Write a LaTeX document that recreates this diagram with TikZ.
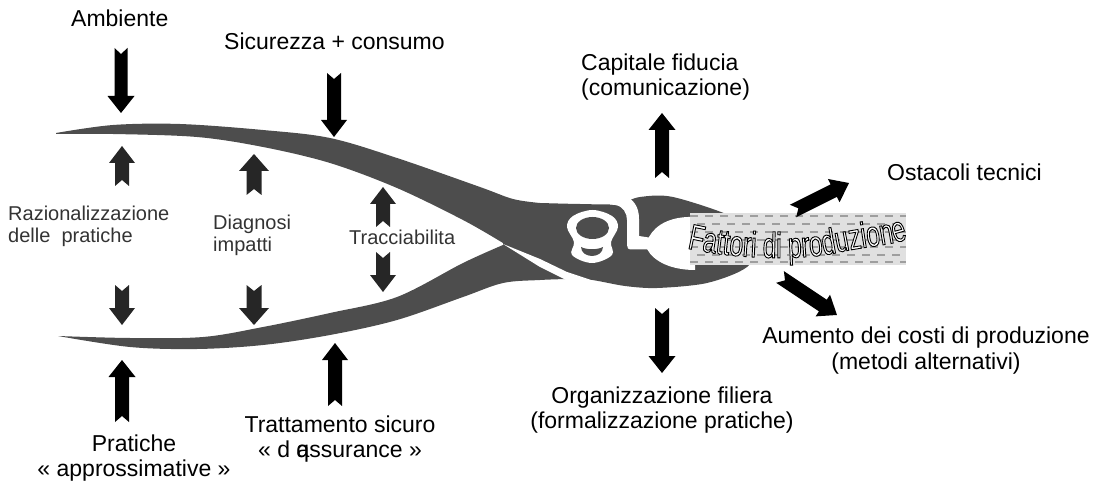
\documentclass[tikz,border=0pt]{standalone}
\usepackage{fontspec}
\setmainfont{Liberation Sans}
\newfontfamily\wavefont[FakeStretch=0.68]{Liberation Sans}
\usetikzlibrary{decorations.text,calc}
\definecolor{plier}{HTML}{4D4D4D}
\definecolor{darkarrow}{HTML}{262626}
\definecolor{labelgray}{HTML}{333333}
\newcommand{\notcharrow}[7]{% colour, x, y tail, x, y tip, shaft width, head width
  \path (#2,#3) coordinate (tl) (#4,#5) coordinate (tp);
  \path let \p1=($(tp)-(tl)$), \n1={veclen(\x1,\y1)}, \n2={atan2(\y1,\x1)} in
    \pgfextra{\xdef\arlen{\n1}\xdef\arang{\n2}};
  \fill[#1,shift={(#2,#3)},x=1pt,y=1pt,rotate=\arang]
    (0,-#6/2) -- (\arlen-17,-#6/2) -- (\arlen-17,-#7/2) -- (\arlen,0)
    -- (\arlen-17,#7/2) -- (\arlen-17,#6/2) -- (0,#6/2) -- (6,0) -- cycle;
}
\tikzset{
  big/.style={font=\fontsize{23}{25}\selectfont,text=black,inner sep=0pt,align=center},
  small/.style={font=\fontsize{20}{22}\selectfont,text=labelgray,inner sep=0pt,align=left}
}
\begin{document}
\begin{tikzpicture}[x=1pt,y=-1pt]
\useasboundingbox (0,0) rectangle (1098,481);
% pliers body
\fill[plier]
  plot[smooth,tension=0.55] coordinates {(56,133) (113,125) (180,124) (263,130) (330,138) (397,158) (480,187) (513,199) (540,203)}
  -- plot[smooth,tension=0.5] coordinates {(540,203) (580,204) (617,204) (640,197) (673,197) (733,217) (760,240) (747,267) (707,283) (657,288) (625,286) (592,280) (567,279)}
  -- plot[smooth,tension=0.55] coordinates {(567,279) (540,280) (503,283) (463,297) (397,320) (330,335) (263,345) (197,349) (130,347) (58,336)}
  -- plot[smooth,tension=0.55] coordinates {(58,336) (130,338) (203,337) (263,327) (330,313) (397,297) (463,263) (503,245)}
  -- plot[smooth,tension=0.55] coordinates {(503,243) (463,220) (397,188) (330,163) (263,147) (197,137) (113,134) (56,134)}
  -- cycle;
% white details of the joint
\fill[white] (503,244) -- (540,259) -- (567,272) -- (594,281) -- (594,284) -- (567,280.5) -- (540,267) -- cycle;
\fill[white] plot[smooth cycle,tension=0.6] coordinates {(592.5,210) (612,216) (618,227) (611,242) (612,255) (592,263) (572,255) (574,242) (567,227) (573,216)};
\fill[plier] (592.5,228) ellipse [x radius=16.5,y radius=11];
\fill[plier] (581,247) .. controls (587,250) and (597,250) .. (603,247) .. controls (603,253) and (597,256) .. (592,256) .. controls (587,256) and (581,253) .. (581,247) -- cycle;
\fill[white] (610,194) -- (622,194) .. controls (634,199) and (639,207) .. (639,219) -- (639,236) -- (652,238) -- (652,249.5) -- (632,249.5) .. controls (628,249.5) and (627,248) .. (627,245) -- (627,220) .. controls (627,213) and (623,206) .. (615,205) -- (610,204.5) -- cycle;
\fill[white] (649,237) .. controls (656,224) and (672,216) .. (695,217) -- (695,270) .. controls (672,270) and (654,262) .. (647,249) -- cycle;
% text panel
\fill[black!12] (690,213) rectangle (906,265);
\begin{scope}
\clip (690,213) rectangle (906,265);
\foreach \yy/\off in {216/0,224/8,232/0,240/8,247/0,255/8,262/0}{
  \draw[black!38,line width=1.4pt,dash pattern=on 8pt off 7pt,dash phase=\off pt] (690,\yy) -- (906,\yy);
}
\end{scope}
\path[decorate,decoration={text along path,text align=center,
  text={|\wavefont\fontsize{36}{36}\selectfont\special{pdf:code 2 Tr 1 1 1 rg 0 0 0 RG 0.9 w}|Fattori di produzione}}]
  (690,249) .. controls (730,258) and (800,262) .. (840,252) .. controls (870,246) and (890,245) .. (905,240);
% black arrows
\notcharrow{black}{121}{48}{121}{113}{13}{27}
\notcharrow{black}{334}{73}{334}{137}{14}{26}
\notcharrow{black}{662}{178}{662}{113}{14}{27}
\notcharrow{black}{662}{308}{662}{373}{14}{27}
\notcharrow{black}{793}{211}{849}{183}{14}{26}
\notcharrow{black}{780}{277}{837}{315}{14}{26}
\notcharrow{black}{122}{422}{122}{360}{14}{27}
\notcharrow{black}{335}{406}{335}{343}{14}{26}
% dark arrows between the jaws
\notcharrow{darkarrow}{122}{186}{122}{146}{14}{26}
\notcharrow{darkarrow}{254}{195}{254}{154}{15}{30}
\notcharrow{darkarrow}{383}{227}{383}{187}{14}{26}
\notcharrow{darkarrow}{122}{285}{122}{325}{14}{26}
\notcharrow{darkarrow}{254}{285}{254}{325}{15}{30}
\notcharrow{darkarrow}{383}{252}{383}{292}{14}{26}
% labels
\node[big,anchor=base west] (amb) at (71,27) {Ambiente};
\node[big,anchor=base west] (sic) at (224,50) {Sicurezza + consumo};
\node[big,anchor=base west,align=left] (cap) at (581,96) {Capitale fiducia\\(comunicazione)};
\node[big,anchor=base west] (ost) at (887,181) {Ostacoli tecnici};
\node[big,anchor=base] (aum) at (926,369) {Aumento dei costi di produzione\\[1pt](metodi alternativi)};
\node[big,anchor=base] (org) at (662,428) {Organizzazione filiera\\(formalizzazione pratiche)};
\node[big,anchor=base] (tra) at (340,457) {Trattamento sicuro\\« d q\kern-0.55em assurance »};
\node[big,anchor=base] (pra) at (134,476) {Pratiche\\« approssimative »};
\node[small,anchor=base west] (raz) at (8,243) {Razionalizzazione\\delle \ pratiche};
\node[small,anchor=base west] (dia) at (213,252) {Diagnosi\\impatti};
\node[small,anchor=base west] (trc) at (349,244) {Tracciabilita};
\end{tikzpicture}
\end{document}
